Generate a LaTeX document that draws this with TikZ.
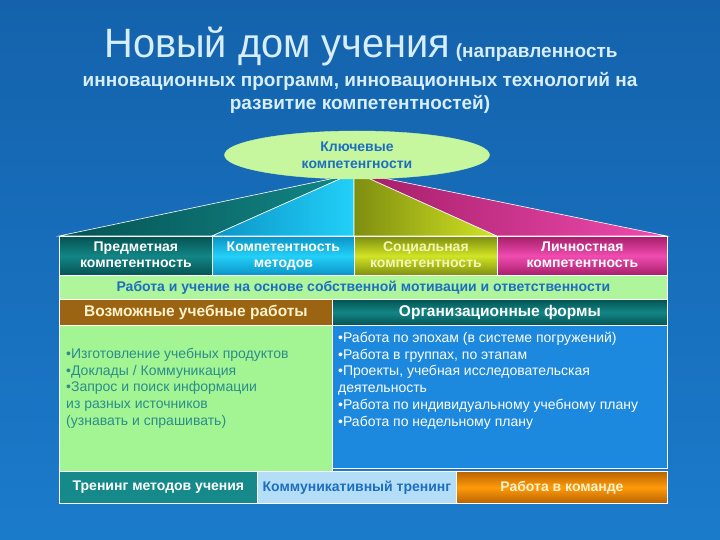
\documentclass[tikz,border=0pt]{standalone}
\usepackage{fontspec}
\usepackage{graphicx}
\setmainfont{Liberation Sans}
\usetikzlibrary{positioning,shapes.geometric}

\definecolor{bgtop}{HTML}{1462AC}
\definecolor{bgbot}{HTML}{1B7BCB}
\definecolor{titlecol}{HTML}{D6EEFF}
\definecolor{keyblue}{HTML}{1E6EC0}
\definecolor{ovalgreen}{HTML}{C6F79E}
\definecolor{tealdark}{HTML}{055353}
\definecolor{teallight}{HTML}{138585}
\definecolor{cyandark}{HTML}{0B94C6}
\definecolor{cyanlight}{HTML}{22D0F8}
\definecolor{yeldark}{HTML}{7E8E10}
\definecolor{yellight}{HTML}{D2E424}
\definecolor{magdark}{HTML}{A61E6A}
\definecolor{maglight}{HTML}{F04CB0}
\definecolor{bandgreen}{HTML}{AEF59C}
\definecolor{brownhead}{HTML}{9A6412}
\definecolor{bodygreen}{HTML}{A2F592}
\definecolor{bodytext}{HTML}{2C8C8C}
\definecolor{bodyblue}{HTML}{1C88DE}
\definecolor{trainteal}{HTML}{168A8A}
\definecolor{commblue}{HTML}{B4DEF8}
\definecolor{orangedark}{HTML}{B86200}
\definecolor{orangelight}{HTML}{FF9A0A}
\definecolor{paleyel}{HTML}{F2F6B4}
\definecolor{cream}{HTML}{FFF2C8}

\begin{document}
\begin{tikzpicture}[x=1pt,y=-1pt,
	box/.style={draw=white, line width=0.8pt, inner sep=0pt, anchor=north west,
		align=center, text=white, font=\bfseries\fontsize{14}{17}\selectfont,
		execute at begin node=\vphantom{Н}, execute at end node=\vphantom{у}},
	comp/.style={box, minimum height=39, font=\bfseries\fontsize{14}{16}\selectfont,
		execute at begin node=\rule{0pt}{16pt}},
	head/.style={box, minimum height=26, font=\bfseries\fontsize{15.5}{17}\selectfont},
	roof/.style={draw=white, line width=0.6pt},
	itemtext/.style={anchor=north west, align=left, inner sep=0pt,
		font=\fontsize{14}{16.7}\selectfont}]

	% background
	\useasboundingbox (0,0) rectangle (720,540);
	\shade[top color=bgtop, bottom color=bgbot] (0,0) rectangle (720,540);

	% title
	\node[anchor=base, text=titlecol, inner sep=0pt] (title) at (361,58)
		{\scalebox{0.97}[1]{\fontsize{41}{44}\selectfont Новый дом учения}\ \ {\bfseries\fontsize{19}{20}\selectfont(направленность}};
	\node[anchor=north, text=titlecol, inner sep=0pt, align=center,
		font=\bfseries\fontsize{19}{23}\selectfont] (subtitle) at (360,72)
		{инновационных программ, инновационных технологий на\\развитие компетентностей)};

	% roof
	\shade[roof, left color=tealdark, right color=teallight] (59,236) -- (335,178) -- (342,178) -- (212,236) -- cycle;
	\shade[roof, left color=cyandark, right color=cyanlight] (212,236) -- (342,178) -- (354,178) -- (354,236) -- cycle;
	\shade[roof, left color=yeldark, right color=yellight] (354,236) -- (354,178) -- (368,178) -- (497,236) -- cycle;
	\shade[roof, left color=magdark, right color=maglight] (497,236) -- (368,178) -- (383,178) -- (667,236) -- cycle;

	% key competences
	\node[ellipse, fill=ovalgreen, draw=ovalgreen, minimum width=265, minimum height=48, inner sep=0pt,
		align=center, text=keyblue, font=\bfseries\fontsize{14}{17}\selectfont] (key) at (357,155)
		{Ключевые\\компетенгности};

	% competences
	\node[comp, minimum width=153, top color=tealdark, bottom color=tealdark,
		middle color=teallight] (subj) at (59,236) {Предметная\\компетентность};
	\node[comp, minimum width=142, top color=cyandark, bottom color=cyandark,
		middle color=cyanlight] (meth) at (212,236) {Компетентность\\методов};
	\node[comp, minimum width=143, top color=yeldark, bottom color=yeldark,
		middle color=yellight, text=paleyel] (soc) at (354,236) {Социальная\\компетентность};
	\node[comp, minimum width=170, top color=magdark, bottom color=magdark,
		middle color=maglight] (pers) at (497,236) {Личностная\\компетентность};

	% motivation band
	\node[box, minimum width=608, minimum height=24, fill=bandgreen, text=keyblue] (motiv) at (59,275)
		{Работа и учение на основе собственной мотивации и ответственности};

	% headers
	\node[head, minimum width=273, fill=brownhead, text=cream] (works) at (59,299)
		{Возможные учебные работы};
	\node[head, minimum width=335, top color=tealdark, bottom color=tealdark,
		middle color=teallight] (forms) at (332,299) {Организационные формы};

	% bodies
	\node[box, minimum width=273, minimum height=146, fill=bodygreen] (worksbody) at (59,325) {};
	\node[box, minimum width=335, minimum height=143, fill=bodyblue] (formsbody) at (332,325) {};
	\node[itemtext, text=bodytext] (worklist) at (66,348)
		{•Изготовление учебных продуктов\\
		 •Доклады / Коммуникация\\
		 •Запрос и поиск информации\\
		 из разных источников\\
		 (узнавать и спрашивать)};
	\node[itemtext, text=white] (formlist) at (338,332)
		{•Работа по эпохам (в системе погружений)\\
		 •Работа в группах, по этапам\\
		 •Проекты, учебная исследовательская\\
		 деятельность\\
		 •Работа по индивидуальному учебному плану\\
		 •Работа по недельному плану};

	% trainings
	\node[box, minimum width=198, minimum height=32, fill=trainteal] (train) at (59,471)
		{Тренинг методов учения};
	\node[box, minimum width=199, minimum height=32, fill=commblue, text=keyblue] (comm) at (257,471)
		{Коммуникативный тренинг};
	\node[box, minimum width=211, minimum height=32, top color=orangedark, bottom color=orangedark,
		middle color=orangelight, text=cream] (team) at (456,471) {Работа в команде};

\end{tikzpicture}
\end{document}
